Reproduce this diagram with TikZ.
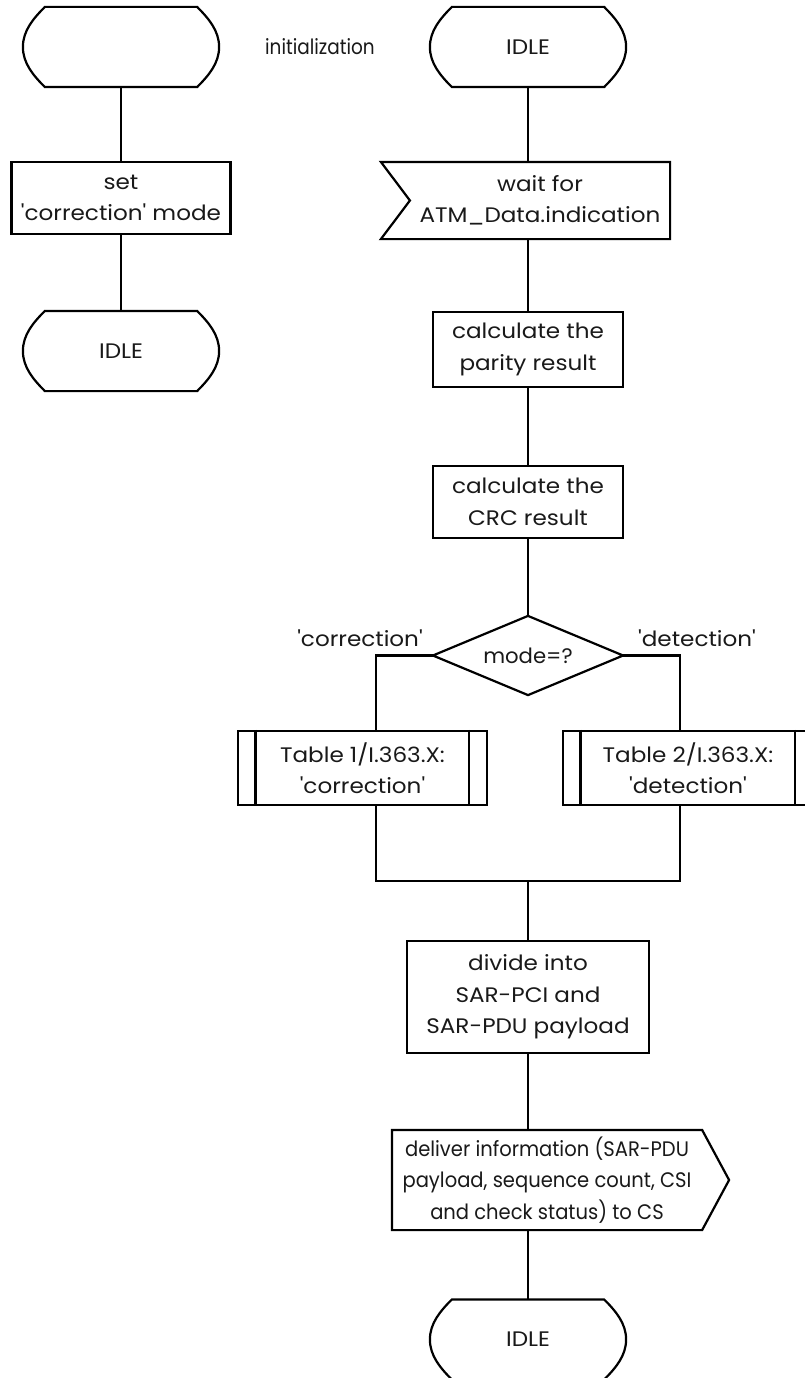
\documentclass[tikz,border=0pt]{standalone}
\usepackage{fontspec}
\setmainfont{Poppins}[Ligatures=TeXOff]
\usetikzlibrary{calc}
\begin{document}
\begin{tikzpicture}[x=1pt,y=-1pt,line width=2.2pt,line join=miter,
  every node/.style={align=center,inner sep=0pt,text=black!90,
    font=\fontsize{21}{31.5}\selectfont\addfontfeature{FakeStretch=1.1}},
  wide/.style={font=\fontsize{21}{31.5}\selectfont\addfontfeature{FakeStretch=#1}},
  statebox/.style={minimum width=194pt,minimum height=78pt},
  taskbox/.style={draw,minimum width=#1,minimum height=74pt},
  procbox/.style={draw,minimum width=250pt,minimum height=74pt},
  ioshape/.style={minimum width=#1,minimum height=75pt}]
\useasboundingbox (0,0) rectangle (804,1378);
\coordinate (col) at (528,0);

% SDL state symbols
\node[statebox] (s0) at (121,47) {};
\node[statebox] (s1) at (528,47) {IDLE};
\node[statebox] (s2) at (121,351) {IDLE};
\node[statebox] (s3) at (528,1339.5) {IDLE};
\foreach \n in {s0,s1,s2,s3}{
  \draw ($(\n.north west)+(22,0)$) -- ($(\n.north east)+(-22,0)$)
    .. controls +(12,12) and +(0,-16) .. (\n.east)
    .. controls +(0,16) and +(12,-12) .. ($(\n.south east)+(-22,0)$)
    -- ($(\n.south west)+(22,0)$)
    .. controls +(-12,-12) and +(0,16) .. (\n.west)
    .. controls +(0,-16) and +(-12,12) .. ($(\n.north west)+(22,0)$) -- cycle;
}
\node[wide=0.88] (init) at (320,47) {initialization};

% left column
\node[taskbox=219pt,minimum height=72pt] (b0) at (121,198) {set\\'correction' mode};

% input signal
\node[ioshape=258pt] (in) at (540,200.5) {wait for\\ATM\_Data.indication};
\draw ($(in.north west)+(-29,0)$) -- (in.north east) -- (in.south east)
  -- ($(in.south west)+(-29,0)$) -- (in.west) -- cycle;

% tasks
\node[taskbox=190pt,minimum height=75pt] (b1) at (528,349.5) {calculate the\\parity result};
\node[taskbox=190pt,minimum height=72pt] (b2) at (528,502) {calculate the\\CRC result};

% decision
\node[wide=1.01,minimum width=188pt,minimum height=77pt] (d) at (528,655.5) {mode=?};
\draw (d.north) -- (d.east) -- (d.south) -- (d.west) -- cycle;
\node (lc) at (360,638) {'correction'};
\node (ld) at (697,638) {'detection'};

% procedure calls
\node[procbox,minimum width=249pt] (t1) at (362.5,768) {Table 1/I.363.X:\\'correction'};
\node[procbox] (t2) at (688,768) {Table 2/I.363.X:\\'detection'};
\foreach \n in {t1,t2}{
  \draw ($(\n.north west)+(18.5,0)$) -- ($(\n.south west)+(18.5,0)$);
  \draw ($(\n.north east)+(-19.5,0)$) -- ($(\n.south east)+(-19.5,0)$);
}
\coordinate (bl) at (376,0);
\coordinate (br) at (680,0);
\coordinate (j) at (528,881);

\node[taskbox=242pt,minimum height=112pt] (div) at (528,997) {divide into\\SAR-PCI and\\SAR-PDU payload};

% output signal
\node[wide=0.93,minimum width=308pt,minimum height=98pt] (out) at (547,1180)
  {deliver information (SAR-PDU\\payload, sequence count, CSI\\and check status) to CS};
\draw (out.north west) -- (out.north east) -- ($(out.east)+(27,0)$)
  -- (out.south east) -- (out.south west) -- cycle;

% flow lines
\draw (s0.south) -- (b0.north);
\draw (b0.south) -- (s2.north);
\draw (s1.south) -- (s1.south |- in.north);
\draw (in.south -| col) -- (b1.north);
\draw (b1.south) -- (b2.north);
\draw (b2.south) -- (d.north);
\draw (d.west) -| (t1.north -| bl);
\draw (d.east) -| (t2.north -| br);
\draw (t1.south -| bl) |- (j) -| (t2.south -| br);
\draw (j) -- (div.north);
\draw (div.south) -- (out.north -| col);
\draw (out.south -| col) -- (s3.north);
\end{tikzpicture}
\end{document}
